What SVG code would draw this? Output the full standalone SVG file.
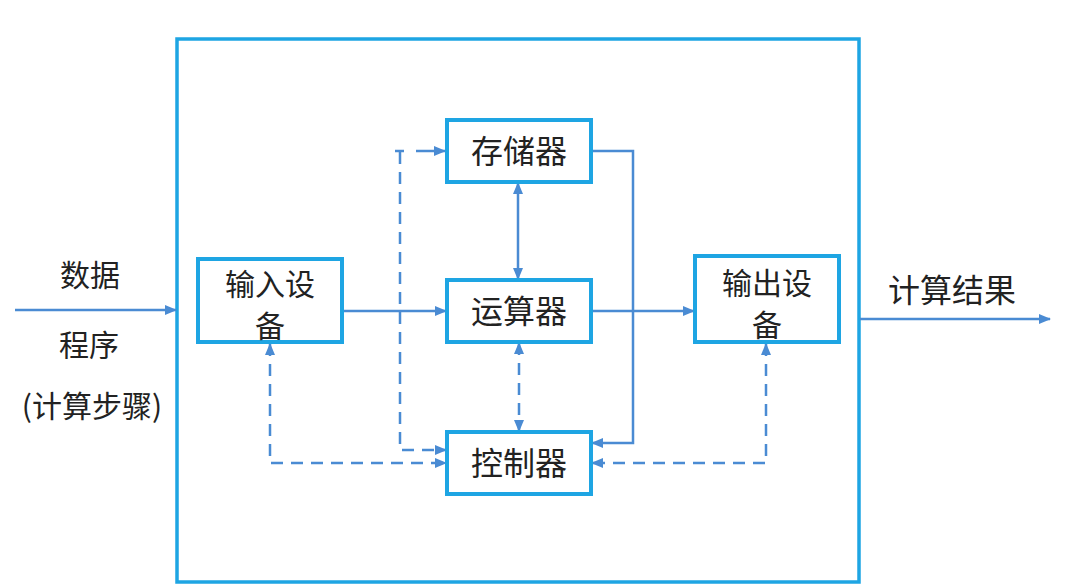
<svg xmlns="http://www.w3.org/2000/svg" width="1078" height="588" viewBox="0 0 1078 588">
<style>
.box{fill:#fff;stroke:#1ea5e3;stroke-width:4}
.outer{fill:none;stroke:#1ea5e3;stroke-width:3.5}
.t{font-family:"Noto Sans CJK SC","Noto Sans",sans-serif;font-size:32px;fill:#222;text-anchor:middle}
.m{font-family:"Noto Sans CJK SC","Noto Sans",sans-serif;font-size:30px;fill:#222;text-anchor:middle}
.s{font-family:"Noto Sans CJK SC","Noto Sans",sans-serif;font-size:30px;fill:#222;text-anchor:middle}
.c{fill:none;stroke:#4a8bd3;stroke-width:2.5}
.d{stroke-dasharray:12 8}
</style>
<defs>
<marker id="a" markerUnits="userSpaceOnUse" markerWidth="12" markerHeight="10" refX="11" refY="5" orient="auto-start-reverse">
<path d="M0,0 L12,5 L0,10 Z" fill="#4a8bd3"/>
</marker>
</defs>
<rect class="outer" x="177" y="39" width="682" height="543"/>
<g id="connectors">
<line class="c" x1="15" y1="310" x2="176" y2="310" marker-end="url(#a)"/>
<line class="c" x1="860" y1="319" x2="1050" y2="319" marker-end="url(#a)"/>
<line class="c" x1="342" y1="311" x2="446" y2="311" marker-end="url(#a)"/>
<line class="c" x1="591" y1="311" x2="694" y2="311" marker-end="url(#a)"/>
<line class="c" x1="518" y1="183" x2="518" y2="279" marker-start="url(#a)" marker-end="url(#a)"/>
<line class="c d" x1="519" y1="343" x2="519" y2="431" marker-start="url(#a)" marker-end="url(#a)"/>
<polyline class="c" points="591,151 633,151 633,443 592,443" marker-end="url(#a)"/>
<line class="c" x1="395" y1="151" x2="404" y2="151"/>
<line class="c" x1="416" y1="151" x2="445" y2="151" marker-end="url(#a)"/>
<polyline class="c d" points="400,152 400,450 446,450" marker-end="url(#a)"/>
<polyline class="c d" points="270,344 270,463 446,463" marker-start="url(#a)" marker-end="url(#a)"/>
<polyline class="c d" points="766,344 766,463 592,463" marker-start="url(#a)" marker-end="url(#a)"/>
</g>
<g id="storage"><rect class="box" x="447" y="120" width="144" height="62"/><text class="t" x="519" y="163">存储器</text></g>
<g id="alu"><rect class="box" x="447" y="280" width="144" height="62"/><text class="t" x="519" y="323">运算器</text></g>
<g id="control"><rect class="box" x="447" y="432" width="144" height="62"/><text class="t" x="519" y="475">控制器</text></g>
<g id="input"><rect class="box" x="198" y="259" width="144" height="83"/><text class="m" x="270" y="295">输入设</text><text class="m" x="270" y="337">备</text></g>
<g id="output"><rect class="box" x="695" y="256" width="144" height="86"/><text class="m" x="767" y="294">输出设</text><text class="m" x="767" y="336">备</text></g>
<g id="labels">
<text class="s" x="90" y="286">数据</text>
<text class="s" x="89" y="356">程序</text>
<text class="s" x="92" y="417">(计算步骤)</text>
<text class="t" x="952" y="302">计算结果</text>
</g>
</svg>
